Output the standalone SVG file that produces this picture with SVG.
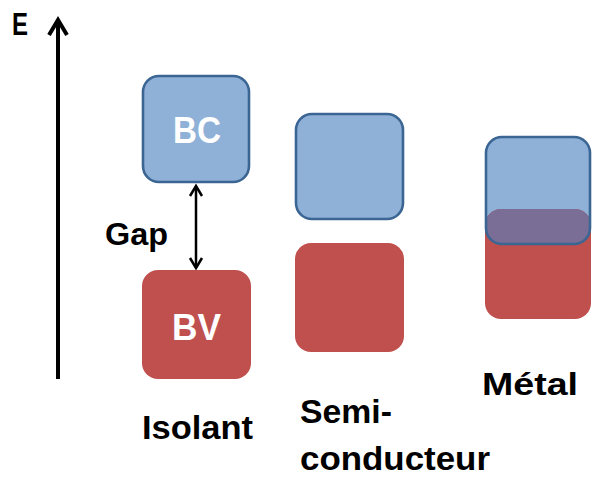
<svg xmlns="http://www.w3.org/2000/svg" width="592" height="477" viewBox="0 0 592 477">
<style>
.lbl{font-family:"Liberation Sans",Arial,sans-serif;font-weight:bold;fill:#000}
.bandtxt{font-family:"Liberation Sans",Arial,sans-serif;font-weight:bold;fill:#fff}
.bc{fill:#8fb1d8;stroke:#3b6593;stroke-width:2.6}
.bcfill{fill:#8fb1d8}
.bcline{fill:none;stroke:#3b6593;stroke-width:2.6}
.bv{fill:#c0504d}
</style>
<defs>
<marker id="axisHead" markerUnits="userSpaceOnUse" markerWidth="30" markerHeight="30" refX="0" refY="0" viewBox="-20 -15 30 30" orient="auto" overflow="visible">
<path d="M-15,-9 L0,0 L-15,9" fill="none" stroke="#000" stroke-width="4"/>
</marker>
<marker id="gapHead" markerUnits="userSpaceOnUse" markerWidth="20" markerHeight="20" refX="0" refY="0" viewBox="-15 -10 20 20" orient="auto-start-reverse" overflow="visible">
<path d="M-10,-6 L0,0 L-10,6" fill="none" stroke="#000" stroke-width="2.5"/>
</marker>
<clipPath id="metalBC"><rect x="486" y="137" width="104" height="107" rx="16"/></clipPath>
</defs>

<g id="connectors">
<line id="axis" x1="58" y1="379" x2="58" y2="20" stroke="#000" stroke-width="4" marker-end="url(#axisHead)"/>
<line id="gap-arrow" x1="196" y1="186" x2="196" y2="268" stroke="#000" stroke-width="2.5" marker-start="url(#gapHead)" marker-end="url(#gapHead)"/>
</g>

<g id="axis-label"><text class="lbl" x="12" y="35" font-size="32" textLength="16" lengthAdjust="spacingAndGlyphs">E</text></g>
<g id="gap-label"><text class="lbl" x="105" y="245" font-size="31" textLength="63" lengthAdjust="spacingAndGlyphs">Gap</text></g>

<g id="isolant-BC">
<rect class="bc" x="143" y="76" width="106" height="106" rx="16"/>
<text class="bandtxt" x="173" y="143" font-size="36" textLength="48" lengthAdjust="spacingAndGlyphs">BC</text>
</g>
<g id="isolant-BV">
<rect class="bv" x="142" y="270" width="109" height="109" rx="16"/>
<text class="bandtxt" x="172" y="340" font-size="36" textLength="49" lengthAdjust="spacingAndGlyphs">BV</text>
</g>
<g id="isolant-label"><text class="lbl" x="142" y="439" font-size="33" textLength="111" lengthAdjust="spacingAndGlyphs">Isolant</text></g>

<g id="semi-BC"><rect class="bc" x="296" y="114" width="107" height="105" rx="16"/></g>
<g id="semi-BV"><rect class="bv" x="295" y="243" width="109" height="109" rx="16"/></g>
<g id="semi-label">
<text class="lbl" x="300" y="423" font-size="33" textLength="92" lengthAdjust="spacingAndGlyphs">Semi-</text>
<text class="lbl" x="300" y="470" font-size="33" textLength="190" lengthAdjust="spacingAndGlyphs">conducteur</text>
</g>

<g id="metal-bands">
<rect class="bcfill" x="486" y="137" width="104" height="107" rx="16"/>
<rect class="bv" x="485" y="209" width="106" height="110" rx="16"/>
<rect x="485" y="209" width="106" height="110" rx="16" fill="#7a6e96" clip-path="url(#metalBC)"/>
<rect class="bcline" x="486" y="137" width="104" height="107" rx="16"/>
</g>
<g id="metal-label"><text class="lbl" x="482" y="395" font-size="31" textLength="96" lengthAdjust="spacingAndGlyphs">Métal</text></g>
</svg>
